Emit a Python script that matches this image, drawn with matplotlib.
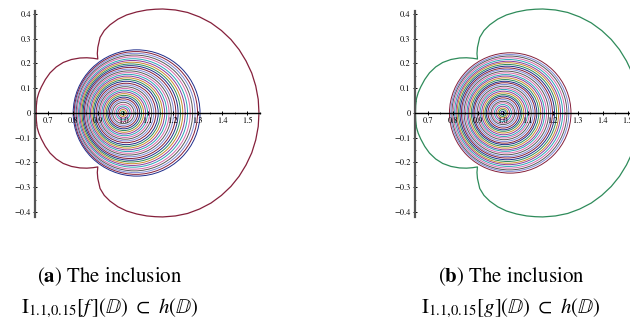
import numpy as np
import matplotlib
matplotlib.use("Agg")
import matplotlib.pyplot as plt
from matplotlib.patches import Circle
from matplotlib.ticker import MultipleLocator

plt.rcParams['mathtext.fontset'] = 'stix'
plt.rcParams['font.family'] = ['STIXGeneral', 'DejaVu Serif']

# boundary of h(D), upper half (lower half is the mirror image)
h_x = [0.651, 0.652, 0.655, 0.662, 0.672, 0.688, 0.707, 0.732, 0.760, 0.793,
       0.827, 0.855, 0.880, 0.899, 0.897, 0.899, 0.908, 0.925, 0.948, 0.980,
       1.015, 1.055, 1.096, 1.130, 1.160, 1.211, 1.260, 1.308, 1.354, 1.396,
       1.434, 1.467, 1.495, 1.518, 1.534, 1.544, 1.547]
h_y = [0.000, 0.030, 0.058, 0.082, 0.105, 0.135, 0.162, 0.186, 0.204, 0.216,
       0.222, 0.223, 0.221, 0.218, 0.240, 0.265, 0.305, 0.333, 0.356, 0.379,
       0.396, 0.408, 0.416, 0.419, 0.420, 0.416, 0.406, 0.388, 0.364, 0.333,
       0.297, 0.256, 0.210, 0.161, 0.109, 0.055, 0.000]

# images of the circles |z| = r, panel (a): radius and centre on the real axis
f_rad = [0.007, 0.014, 0.021, 0.028, 0.035, 0.043, 0.050, 0.057, 0.064, 0.071,
         0.078, 0.085, 0.092, 0.099, 0.106, 0.113, 0.120, 0.128, 0.135, 0.142,
         0.149, 0.156, 0.163, 0.170, 0.177, 0.184, 0.191, 0.198, 0.205, 0.212,
         0.219, 0.227, 0.234, 0.241, 0.248, 0.255]
f_cen = [1.0000, 1.0002, 1.0004, 1.0007, 1.0011, 1.0015, 1.0021, 1.0027, 1.0034, 1.0042,
         1.0051, 1.0061, 1.0072, 1.0083, 1.0095, 1.0109, 1.0123, 1.0138, 1.0153, 1.0170,
         1.0187, 1.0205, 1.0224, 1.0244, 1.0265, 1.0287, 1.0309, 1.0333, 1.0357, 1.0382,
         1.0408, 1.0435, 1.0462, 1.0491, 1.0520, 1.0550]

# panel (b)
g_rad = [0.007, 0.014, 0.020, 0.027, 0.034, 0.041, 0.047, 0.054, 0.061, 0.068,
         0.074, 0.081, 0.088, 0.095, 0.101, 0.108, 0.115, 0.122, 0.128, 0.135,
         0.142, 0.149, 0.155, 0.162, 0.169, 0.176, 0.182, 0.189, 0.196, 0.203,
         0.209, 0.216, 0.223, 0.230, 0.236, 0.243]
g_cen = [1.0000, 1.0001, 1.0002, 1.0004, 1.0006, 1.0008, 1.0011, 1.0015, 1.0019, 1.0023,
         1.0028, 1.0033, 1.0039, 1.0045, 1.0052, 1.0059, 1.0067, 1.0075, 1.0084, 1.0093,
         1.0102, 1.0112, 1.0122, 1.0133, 1.0145, 1.0156, 1.0169, 1.0181, 1.0195, 1.0208,
         1.0222, 1.0237, 1.0252, 1.0268, 1.0284, 1.0300]

x_ticks = [0.7, 0.8, 0.9, 1.0, 1.1, 1.2, 1.3, 1.4, 1.5]
x_labels = ['0.7', '0.8', '0.9', '1.0', '1.1', '1.2', '1.3', '1.4', '1.5']
y_ticks = [-0.4, -0.3, -0.2, -0.1, 0.0, 0.1, 0.2, 0.3, 0.4]
y_labels = ['\u22120.4', '\u22120.3', '\u22120.2', '\u22120.1', '0', '0.1', '0.2', '0.3', '0.4']

palette = ['#85203b', '#1f2d8c', '#2e8b5a', '#c98a2e', '#8b3c9e',
           '#2ea3b6', '#d46aa9', '#5a5a5a', '#7d8ad6']

captions = [(r'($\mathbf{a}$) The inclusion',
             r'$\mathrm{I}_{1.1{,}0.15}[f\,](\mathbb{D})\ \subset\ h(\mathbb{D})$'),
            (r'($\mathbf{b}$) The inclusion',
             r'$\mathrm{I}_{1.1{,}0.15}[g](\mathbb{D})\ \subset\ h(\mathbb{D})$')]

fig = plt.figure(figsize=(6.3, 3.29), dpi=100)
ax1 = fig.add_axes([0.0530, 0.3331, 0.3632, 0.6471])
ax2 = fig.add_axes([0.6551, 0.3331, 0.3651, 0.6471])

panels = [(ax1, f_rad, f_cen, palette[0], 1),
          (ax2, g_rad, g_cen, palette[2], 0)]

for ax, rad, cen, curve_col, offset in panels:
    for k in range(len(rad)):
        col = palette[(offset + k + 1) % len(palette)]
        ax.add_patch(Circle((cen[k], 0), rad[k], fill=False, lw=0.7, ec=col))
    hx = np.array(h_x)
    hy = np.array(h_y)
    ax.plot(np.concatenate([hx, hx[::-1]]), np.concatenate([hy, -hy[::-1]]),
            color=curve_col, lw=0.9)

    ax.set_xlim(0.64, 1.56)
    ax.set_ylim(-0.43, 0.43)
    ax.patch.set_alpha(0)
    for s in ['top', 'right']:
        ax.spines[s].set_visible(False)
    ax.spines['left'].set_position(('data', 0.648))
    ax.spines['left'].set_bounds(-0.42, 0.41)
    ax.spines['left'].set_color('#555555')
    ax.spines['left'].set_linewidth(1.6)
    ax.spines['bottom'].set_position(('data', 0))
    ax.spines['bottom'].set_bounds(0.648, 1.55)
    ax.spines['bottom'].set_linewidth(1.0)
    ax.set_xticks(x_ticks)
    ax.set_xticklabels(x_labels)
    ax.set_yticks(y_ticks)
    ax.set_yticklabels(y_labels)
    ax.xaxis.set_minor_locator(MultipleLocator(0.05))
    ax.yaxis.set_minor_locator(MultipleLocator(0.05))
    ax.tick_params(which='major', direction='inout', length=3, width=0.7,
                   labelsize=6, pad=1.5)
    ax.tick_params(which='minor', direction='inout', length=2, width=0.5)

for (l1, l2), xc in zip(captions, [110 / 630, 511 / 630]):
    fig.text(xc, 1 - 277 / 329, l1, ha='center', va='center', fontsize=15)
    fig.text(xc, 1 - 308 / 329, l2, ha='center', va='center', fontsize=15)

fig.savefig('out.png', dpi=100)
